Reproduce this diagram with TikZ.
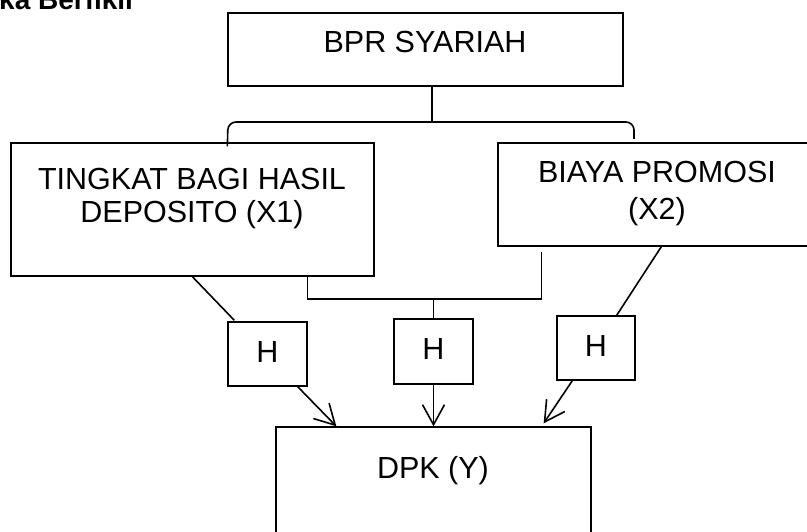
\documentclass[tikz,border=0pt]{standalone}
\usepackage{fontspec}
\setmainfont{Liberation Sans}
\usetikzlibrary{arrows.meta}
\begin{document}
\begin{tikzpicture}[x=1pt,y=-1pt,
  box/.style={draw=black,line width=1.3pt,rectangle,inner sep=0pt},
  lbl/.style={anchor=base,inner sep=0pt,font=\fontsize{30.5}{36}\selectfont},
  conn/.style={line width=1.6pt},
  arr/.style={line width=1.6pt,-{Straight Barb[length=20pt,width=22pt,line width=1.6pt]}}]
\useasboundingbox (0,0) rectangle (807,532);
\clip (0,0) rectangle (807,532);
% title
\node[anchor=base west,inner sep=0pt,font=\fontsize{28}{34}\selectfont\bfseries] (title) at (-1,10) {ka Berfikir};
% boxes
\node[box,minimum width=395pt,minimum height=73pt] (bpr) at (425.5,49.5) {};
\node[box,minimum width=363pt,minimum height=133pt] (left) at (192.5,209.5) {};
\node[box,minimum width=318pt,minimum height=103pt] (right) at (657,194.5) {};
\node[box,minimum width=79pt,minimum height=64pt] (h1) at (267.5,354) {};
\node[box,minimum width=79pt,minimum height=65pt] (h2) at (433.5,351.5) {};
\node[box,minimum width=78pt,minimum height=64pt] (h3) at (596,348) {};
\node[box,minimum width=315pt,minimum height=140pt] (dpk) at (433.5,497) {};
% texts
\node[lbl] (tbpr) at (425,53) {BPR SYARIAH};
\node[lbl] (tl1) at (192,190) {TINGKAT BAGI HASIL};
\node[lbl] (tl2) at (192,223) {DEPOSITO (X1)};
\node[lbl] (tr1) at (657,183) {BIAYA PROMOSI};
\node[lbl] (tr2) at (657,220) {(X2)};
\node[lbl] (th1) at (267.5,362) {H};
\node[lbl] (th2) at (433.5,359) {H};
\node[lbl] (th3) at (596,356) {H};
\node[lbl] (tdpk) at (433,478) {DPK (Y)};
% top connector and brace
\coordinate (stemend) at (432,122);
\draw[conn] ([xshift=6.5pt]bpr.south) -- (stemend);
\draw[conn,rounded corners=8pt] ([yshift=-4pt]left.north west -| bpr.south west) -- (228,122) -- (634,122) -- (634,139);
% left branch
\draw[conn] ([xshift=182pt]left.south west) -- ([xshift=7pt,yshift=1pt]h1.north west);
\draw[arr] ([xshift=-10pt]h1.south east) -- ([xshift=61pt]dpk.north west);
% middle joint
\coordinate (j) at (433.5,299);
\draw[conn] ([xshift=-67pt]left.south east) |- (j) -| ([xshift=44pt,yshift=-5pt]right.south west);
\draw[conn] (j) -- (h2.north);
\draw[arr] (h2.south) -- (dpk.north);
% right branch
\draw[conn] ([xshift=164pt]right.south west) -- ([xshift=-19pt]h3.north east);
\draw[arr] ([xshift=16pt]h3.south west) -- ([xshift=-48pt,yshift=3pt]dpk.north east);
\end{tikzpicture}
\end{document}
